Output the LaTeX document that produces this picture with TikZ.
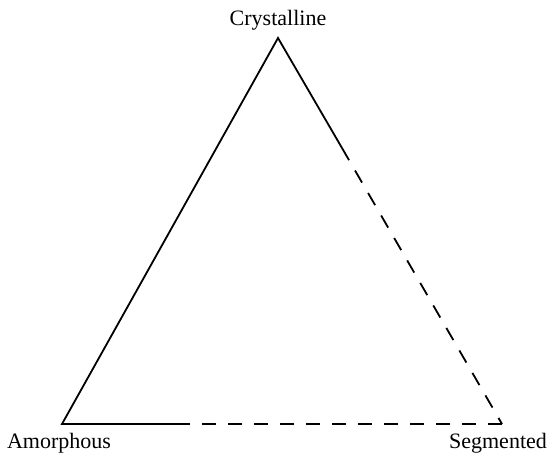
\documentclass[tikz,border=0pt]{standalone}
\usepackage{fontspec}
\setmainfont{Liberation Serif}
\begin{document}
\begin{tikzpicture}[x=1pt,y=-1pt,
  edge/.style={line width=1.8pt},
  dashededge/.style={line width=1.8pt,dash pattern=on 14pt off 12pt},
  lab/.style={font=\fontsize{22}{26}\selectfont,inner sep=0pt}]
\useasboundingbox (0,0) rectangle (550,454);
\coordinate (C) at (278,38);
\coordinate (A) at (62,424);
\coordinate (S) at (502,424);
\coordinate (rb) at (342,148);
\coordinate (bb) at (181,424);
\draw[edge,line join=miter] (rb) -- (C) -- (A) -- (bb);
\draw[dashededge] (rb) -- (S);
\draw[dashededge] (S) -- (bb);
\node[lab,anchor=base] (cl) at (278,26) {Crystalline};
\node[lab,anchor=base] (al) at (59,449) {Amorphous};
\node[lab,anchor=base] (sl) at (498,449) {Segmented};
\end{tikzpicture}
\end{document}
